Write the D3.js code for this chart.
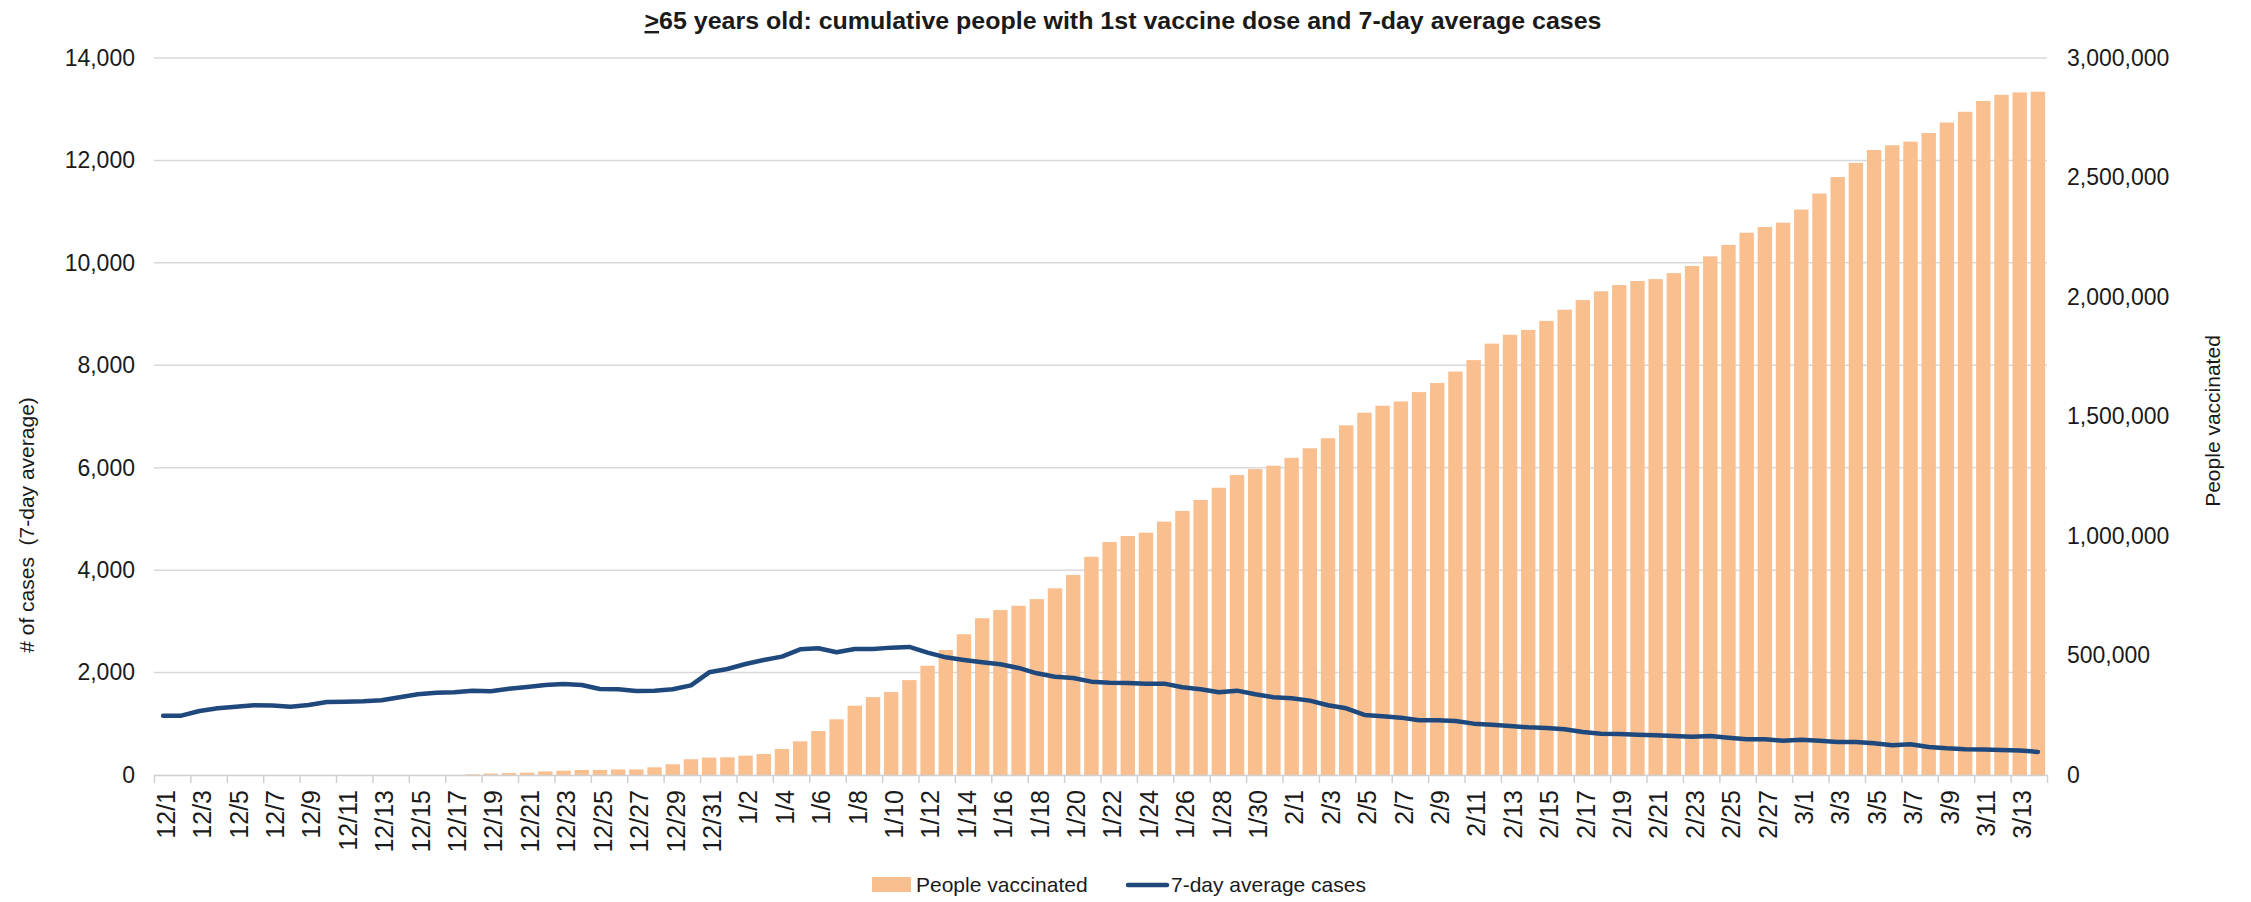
<!DOCTYPE html>
<html><head><meta charset="utf-8">
<script src="https://cdn.jsdelivr.net/npm/d3@7"></script>
<style>
html,body{margin:0;padding:0;background:#fff;}
svg{display:block;}
text{font-family:"Liberation Sans",Arial,sans-serif;fill:#1a1a1a;}
</style></head><body>
<svg id="chart" width="2251" height="902"></svg>
<script>
const dates = [
"12/1","12/2","12/3","12/4","12/5","12/6","12/7","12/8","12/9","12/10","12/11","12/12","12/13","12/14","12/15","12/16","12/17","12/18","12/19","12/20","12/21","12/22","12/23","12/24","12/25","12/26","12/27","12/28","12/29","12/30","12/31",
"1/1","1/2","1/3","1/4","1/5","1/6","1/7","1/8","1/9","1/10","1/11","1/12","1/13","1/14","1/15","1/16","1/17","1/18","1/19","1/20","1/21","1/22","1/23","1/24","1/25","1/26","1/27","1/28","1/29","1/30","1/31",
"2/1","2/2","2/3","2/4","2/5","2/6","2/7","2/8","2/9","2/10","2/11","2/12","2/13","2/14","2/15","2/16","2/17","2/18","2/19","2/20","2/21","2/22","2/23","2/24","2/25","2/26","2/27","2/28",
"3/1","3/2","3/3","3/4","3/5","3/6","3/7","3/8","3/9","3/10","3/11","3/12","3/13","3/14"];

const peopleVaccinated = [
0,0,0,0,0,0,0,0,0,0,0,0,0,0,0,0,0,3000,6000,8000,10000,15000,18000,21000,21000,23000,23000,32000,45000,66000,73000,
74000,81000,88000,109000,141000,184000,233000,290000,326000,347000,397000,457000,523000,589000,656000,690000,708000,736000,781000,837000,913000,975000,1000000,1014000,1060000,1105000,1151000,1202000,1255000,1280000,1294000,
1327000,1367000,1409000,1463000,1516000,1545000,1563000,1602000,1640000,1688000,1736000,1805000,1842000,1862000,1900000,1947000,1987000,2024000,2050000,2067000,2075000,2100000,2130000,2170000,2218000,2269000,2293000,2311000,
2366000,2433000,2502000,2561000,2615000,2635000,2650000,2686000,2730000,2775000,2820000,2846000,2856000,2859000];

const avgCases = [
1158,1158,1250,1302,1334,1361,1355,1334,1367,1426,1432,1439,1458,1517,1576,1608,1615,1647,1634,1686,1719,1758,1777,1758,1680,1673,1641,1647,1673,1751,2005,
2070,2168,2246,2311,2454,2474,2396,2461,2461,2487,2500,2389,2298,2246,2200,2161,2090,1986,1920,1894,1823,1803,1797,1784,1784,1712,1673,1615,1647,1576,1517,
1497,1452,1361,1302,1172,1146,1120,1068,1068,1055,1003,983,957,931,918,892,840,807,801,788,775,762,749,762,729,697,697,670,
690,670,644,644,618,582,600,548,521,504,496,487,478,451];

const leftTicks = [0,2000,4000,6000,8000,10000,12000,14000];
const rightTicks = [0,500000,1000000,1500000,2000000,2500000,3000000];
const xLabelDates = dates.filter((d,i)=>i%2===0);

const m = {left:154, right:2047, top:58, bottom:775};
const svg = d3.select("#chart");

const x = d3.scaleBand().domain(dates).range([m.left,m.right]).paddingInner(0.21).paddingOuter(0.105);
const xb = d3.scaleLinear().domain([0,dates.length]).range([m.left,m.right]);
const yL = d3.scaleLinear().domain([0,14000]).range([m.bottom,m.top]);
const yR = d3.scaleLinear().domain([0,3000000]).range([m.bottom,m.top]);

// gridlines
svg.append("g").selectAll("line").data(leftTicks.filter(v=>v>0)).join("line")
  .attr("x1",m.left).attr("x2",m.right)
  .attr("y1",d=>yL(d)).attr("y2",d=>yL(d))
  .attr("stroke","#d9d9d9").attr("stroke-width",1.5);

// bars
svg.append("g").selectAll("rect").data(dates).join("rect")
  .attr("x",d=>x(d)).attr("width",x.bandwidth())
  .attr("y",(d,i)=>yR(peopleVaccinated[i]))
  .attr("height",(d,i)=>yR(0)-yR(peopleVaccinated[i]))
  .attr("fill","#f9bf8f");

// x axis line + tick marks at category boundaries
svg.append("g").attr("transform",`translate(0,${m.bottom})`)
  .call(d3.axisBottom(xb).tickValues(d3.range(0,dates.length+1,2)).tickSize(8).tickSizeOuter(0).tickFormat(""))
  .call(g=>g.select(".domain").attr("stroke","#d0d0d0").attr("stroke-width",1.5))
  .call(g=>g.selectAll(".tick line").attr("stroke","#d0d0d0").attr("stroke-width",1.5));

// x labels
svg.append("g").attr("transform",`translate(0,${m.bottom})`)
  .call(d3.axisBottom(x).tickValues(xLabelDates).tickSize(0).tickSizeOuter(0))
  .call(g=>g.select(".domain").remove())
  .call(g=>g.selectAll(".tick text")
     .attr("transform","translate(3,15) rotate(-90)")
     .attr("text-anchor","end").attr("x",0).attr("y",0).attr("dy","0.35em")
     .style("font-size","25px").style("font-family","'Liberation Sans',Arial,sans-serif").attr("fill","#1a1a1a"));

// line
const line = d3.line().x((d,i)=>x(dates[i])+x.bandwidth()/2).y(d=>yL(d));
svg.append("path").datum(avgCases).attr("d",line)
  .attr("fill","none").attr("stroke","#1f497d").attr("stroke-width",4.5)
  .attr("stroke-linejoin","round").attr("stroke-linecap","round");

// left axis
svg.append("g").attr("transform",`translate(${m.left},0)`)
  .call(d3.axisLeft(yL).tickValues(leftTicks).tickSize(0).tickPadding(19).tickFormat(d3.format(",")))
  .call(g=>g.select(".domain").remove())
  .call(g=>g.selectAll(".tick text").style("font-size","23px").style("font-family","'Liberation Sans',Arial,sans-serif").attr("fill","#1a1a1a"));

// right axis
svg.append("g").attr("transform",`translate(${m.right},0)`)
  .call(d3.axisRight(yR).tickValues(rightTicks).tickSize(0).tickPadding(20).tickFormat(d3.format(",")))
  .call(g=>g.select(".domain").remove())
  .call(g=>g.selectAll(".tick text").style("font-size","23px").style("font-family","'Liberation Sans',Arial,sans-serif").attr("fill","#1a1a1a"));

// axis titles
svg.append("text").attr("transform","translate(27,525) rotate(-90)")
  .attr("text-anchor","middle").attr("dy","0.35em").style("font-size","21px").style("white-space","pre")
  .text("# of cases  (7-day average)");
svg.append("text").attr("transform","translate(2213,421) rotate(-90)")
  .attr("text-anchor","middle").attr("dy","0.35em").style("font-size","21px")
  .text("People vaccinated");

// title
const title = svg.append("text").attr("x",1123).attr("y",29).attr("text-anchor","middle")
  .style("font-size","24px").style("font-weight","bold")
  .style("font-family","'Liberation Sans Narrow','Liberation Sans',Arial,sans-serif");
title.append("tspan").style("text-decoration","underline").text(">");
title.append("tspan").text("65 years old: cumulative people with 1st vaccine dose and 7-day average cases");
const tl = title.node().getComputedTextLength();
if (Math.abs(tl-957) > 5) title.attr("textLength",957).attr("lengthAdjust","spacingAndGlyphs");

// legend
const lg = svg.append("g");
lg.append("rect").attr("x",872).attr("y",877).attr("width",39).attr("height",15).attr("fill","#f9bf8f");
lg.append("text").attr("x",916).attr("y",892).style("font-size","21px").text("People vaccinated");
lg.append("line").attr("x1",1128).attr("x2",1167).attr("y1",885).attr("y2",885)
  .attr("stroke","#1f497d").attr("stroke-width",4.5).attr("stroke-linecap","round");
lg.append("text").attr("x",1171).attr("y",892).style("font-size","21px").text("7-day average cases");
</script>
</body></html>
